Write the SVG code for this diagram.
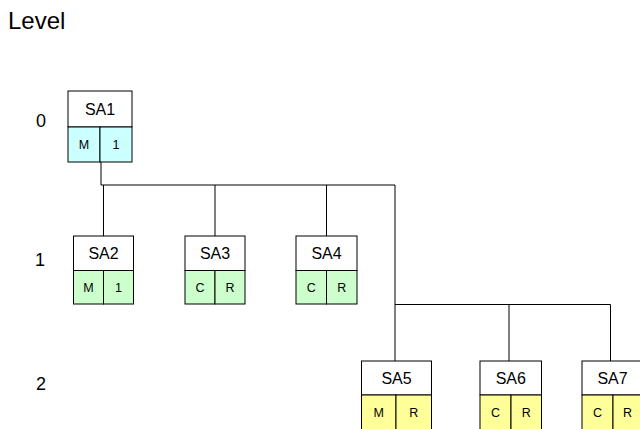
<svg xmlns="http://www.w3.org/2000/svg" width="640" height="429" viewBox="0 0 640 429">
<style>
.box{fill:#ffffff;stroke:#000;stroke-width:1}
.c0{fill:#ccffff;stroke:#000;stroke-width:1}
.c1{fill:#ccffcc;stroke:#000;stroke-width:1}
.c2{fill:#ffff99;stroke:#000;stroke-width:1}
.t{font-family:"Liberation Sans",Arial,sans-serif;font-size:16px;text-anchor:middle;fill:#000}
.s{font-family:"Liberation Sans",Arial,sans-serif;font-size:12.5px;text-anchor:middle;fill:#000}
.lv{font-family:"Liberation Sans",Arial,sans-serif;font-size:18px;text-anchor:middle;fill:#000}
.ln{fill:none;stroke:#000;stroke-width:1}
</style>
<rect width="640" height="429" fill="#fff"/>
<text x="8" y="29" font-family="Liberation Sans, Arial, sans-serif" font-size="24">Level</text>
<text class="lv" x="41" y="127">0</text>
<text class="lv" x="40" y="266">1</text>
<text class="lv" x="41" y="390">2</text>
<g id="connectors">
<path class="ln" d="M101,162V185M101,185H395M103.5,185V236M215,185V236M326.5,185V236M395,185V361M395,304.5H610.5M509,304.5V361M610.5,304.5V361"/>
</g>
<g id="SA1">
<rect class="box" x="68" y="91" width="64" height="36"/>
<rect class="c0" x="68" y="127" width="32" height="35"/>
<rect class="c0" x="100" y="127" width="32" height="35"/>
<text class="t" x="100" y="114.5">SA1</text>
<text class="s" x="84" y="149">M</text>
<text class="s" x="116" y="149">1</text>
</g>
<g id="SA2">
<rect class="box" x="73.5" y="236" width="60" height="34.5"/>
<rect class="c1" x="73.5" y="270.5" width="30" height="33.5"/>
<rect class="c1" x="103.5" y="270.5" width="30" height="33.5"/>
<text class="t" x="103.5" y="259">SA2</text>
<text class="s" x="88.5" y="291.5">M</text>
<text class="s" x="118.5" y="291.5">1</text>
</g>
<g id="SA3">
<rect class="box" x="185" y="236" width="60" height="34.5"/>
<rect class="c1" x="185" y="270.5" width="30" height="33.5"/>
<rect class="c1" x="215" y="270.5" width="30" height="33.5"/>
<text class="t" x="215" y="259">SA3</text>
<text class="s" x="200" y="291.5">C</text>
<text class="s" x="230" y="291.5">R</text>
</g>
<g id="SA4">
<rect class="box" x="296" y="236" width="61" height="34.5"/>
<rect class="c1" x="296" y="270.5" width="30.5" height="33.5"/>
<rect class="c1" x="326.5" y="270.5" width="30.5" height="33.5"/>
<text class="t" x="326.5" y="259">SA4</text>
<text class="s" x="311.25" y="291.5">C</text>
<text class="s" x="341.75" y="291.5">R</text>
</g>
<g id="SA5">
<rect class="box" x="361.5" y="361" width="70" height="34"/>
<rect class="c2" x="361.5" y="395" width="34.5" height="36"/>
<rect class="c2" x="396" y="395" width="35.5" height="36"/>
<text class="t" x="396.5" y="383.5">SA5</text>
<text class="s" x="378.75" y="416.5">M</text>
<text class="s" x="413.75" y="416.5">R</text>
</g>
<g id="SA6">
<rect class="box" x="480" y="361" width="61.5" height="34"/>
<rect class="c2" x="480" y="395" width="31" height="36"/>
<rect class="c2" x="511" y="395" width="30.5" height="36"/>
<text class="t" x="510.75" y="383.5">SA6</text>
<text class="s" x="495.5" y="416.5">C</text>
<text class="s" x="526.25" y="416.5">R</text>
</g>
<g id="SA7">
<rect class="box" x="582" y="361" width="61" height="34"/>
<rect class="c2" x="582" y="395" width="31" height="36"/>
<rect class="c2" x="613" y="395" width="30" height="36"/>
<text class="t" x="612.5" y="383.5">SA7</text>
<text class="s" x="597.5" y="416.5">C</text>
<text class="s" x="627.5" y="416.5">R</text>
</g>
</svg>
